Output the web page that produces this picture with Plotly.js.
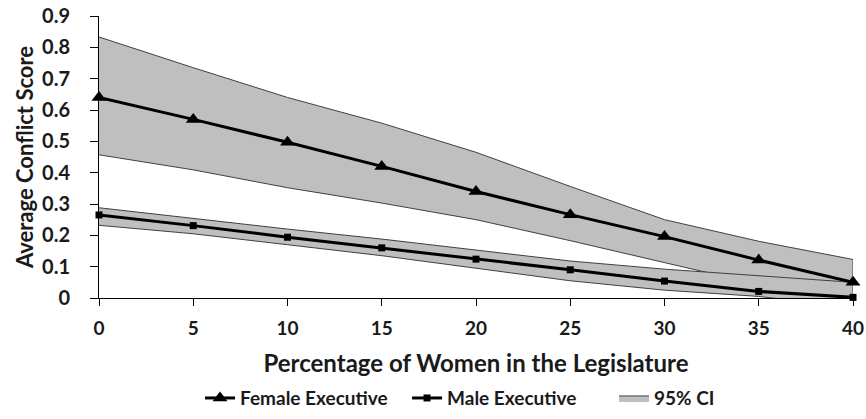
<!DOCTYPE html>
<html>
<head>
<meta charset="utf-8">
<script src="https://cdn.plot.ly/plotly-3.0.1.min.js"></script>
<style>html,body{margin:0;padding:0;background:#fff;}#chart{width:866px;height:419px;}</style>
</head>
<body>
<div id="chart"></div>
<script>
const pctWomen = [0, 5, 10, 15, 20, 25, 30, 35, 40];
const femaleExec = [0.640, 0.570, 0.497, 0.420, 0.340, 0.266, 0.196, 0.121, 0.050];
const femaleUpper = [0.833, 0.735, 0.640, 0.558, 0.465, 0.356, 0.250, 0.181, 0.123];
const femaleLower = [0.457, 0.409, 0.352, 0.303, 0.250, 0.183, 0.113, 0.043, -0.043];
const maleExec = [0.265, 0.231, 0.194, 0.160, 0.124, 0.090, 0.054, 0.021, 0.002];
const maleUpper = [0.288, 0.253, 0.220, 0.188, 0.152, 0.118, 0.092, 0.072, 0.050];
const maleLower = [0.232, 0.205, 0.170, 0.135, 0.095, 0.055, 0.025, 0.005, -0.030];
const yTicks = [0, 0.1, 0.2, 0.3, 0.4, 0.5, 0.6, 0.7, 0.8, 0.9];
const yTickText = ['0', '0.1', '0.2', '0.3', '0.4', '0.5', '0.6', '0.7', '0.8', '0.9'];

function band(upper, lower) {
  return {
    x: pctWomen.concat(pctWomen.slice().reverse()),
    y: upper.concat(lower.slice().reverse())
  };
}
const fb = band(femaleUpper, femaleLower);
const mb = band(maleUpper, maleLower);
const bandStyle = {
  type: 'scatter', mode: 'lines', fill: 'toself',
  fillcolor: '#bfbfbf', line: {color: '#404040', width: 1},
  hoverinfo: 'skip'
};
const FONT = 'Lato, "Open Sans", sans-serif';
const TXT = '#1a1a1a';

const data = [
  Object.assign({}, bandStyle, {x: fb.x, y: fb.y, name: '95% CI', showlegend: true, legendrank: 3}),
  Object.assign({}, bandStyle, {x: mb.x, y: mb.y, name: '95% CI', showlegend: false}),
  {type: 'scatter', mode: 'lines+markers', x: pctWomen, y: femaleExec, name: 'Female Executive', legendrank: 1,
   line: {color: '#000', width: 3}, marker: {symbol: 'triangle-up', size: 13, color: '#000'}, cliponaxis: false},
  {type: 'scatter', mode: 'lines+markers', x: pctWomen, y: maleExec, name: 'Male Executive', legendrank: 2,
   line: {color: '#000', width: 3}, marker: {symbol: 'square', size: 7, color: '#000'}, cliponaxis: false}
];

const layout = {
  width: 866, height: 419,
  margin: {l: 99, r: 13, t: 16, b: 121, autoexpand: false},
  paper_bgcolor: '#fff', plot_bgcolor: '#fff',
  font: {family: FONT, color: TXT, size: 16},
  showlegend: true,
  legend: {orientation: 'h', x: 0.134, xanchor: 'left', y: -0.355, yanchor: 'middle',
           entrywidth: 162, entrywidthmode: 'pixels',
           font: {family: FONT, size: 19, weight: 'bold', color: TXT}, traceorder: 'normal'},
  xaxis: {
    range: [0, 40], tickvals: pctWomen, ticktext: pctWomen.map(String), automargin: false,
    showgrid: false, zeroline: false, showline: true, linecolor: '#000', linewidth: 1,
    ticks: 'outside', ticklen: 7, tickcolor: '#000', ticklabelstandoff: 6,
    tickfont: {family: FONT, size: 19, weight: 'bold', color: TXT},
    title: {text: 'Percentage of Women in the Legislature', font: {family: FONT, size: 24, weight: 'bold', color: TXT}, standoff: 17}
  },
  yaxis: {
    range: [0, 0.9], tickvals: yTicks, ticktext: yTickText, automargin: false,
    showgrid: false, zeroline: false, showline: true, linecolor: '#000', linewidth: 1,
    ticks: 'outside', ticklen: 8, tickcolor: '#000', ticklabelstandoff: 16,
    tickfont: {family: FONT, size: 20, weight: 'bold', color: TXT},
    title: {text: 'Average Conflict Score', font: {family: FONT, size: 22, weight: 'bold', color: TXT}, standoff: 2}
  }
};

Plotly.newPlot('chart', data, layout, {displayModeBar: false, staticPlot: true});
</script>
</body>
</html>
